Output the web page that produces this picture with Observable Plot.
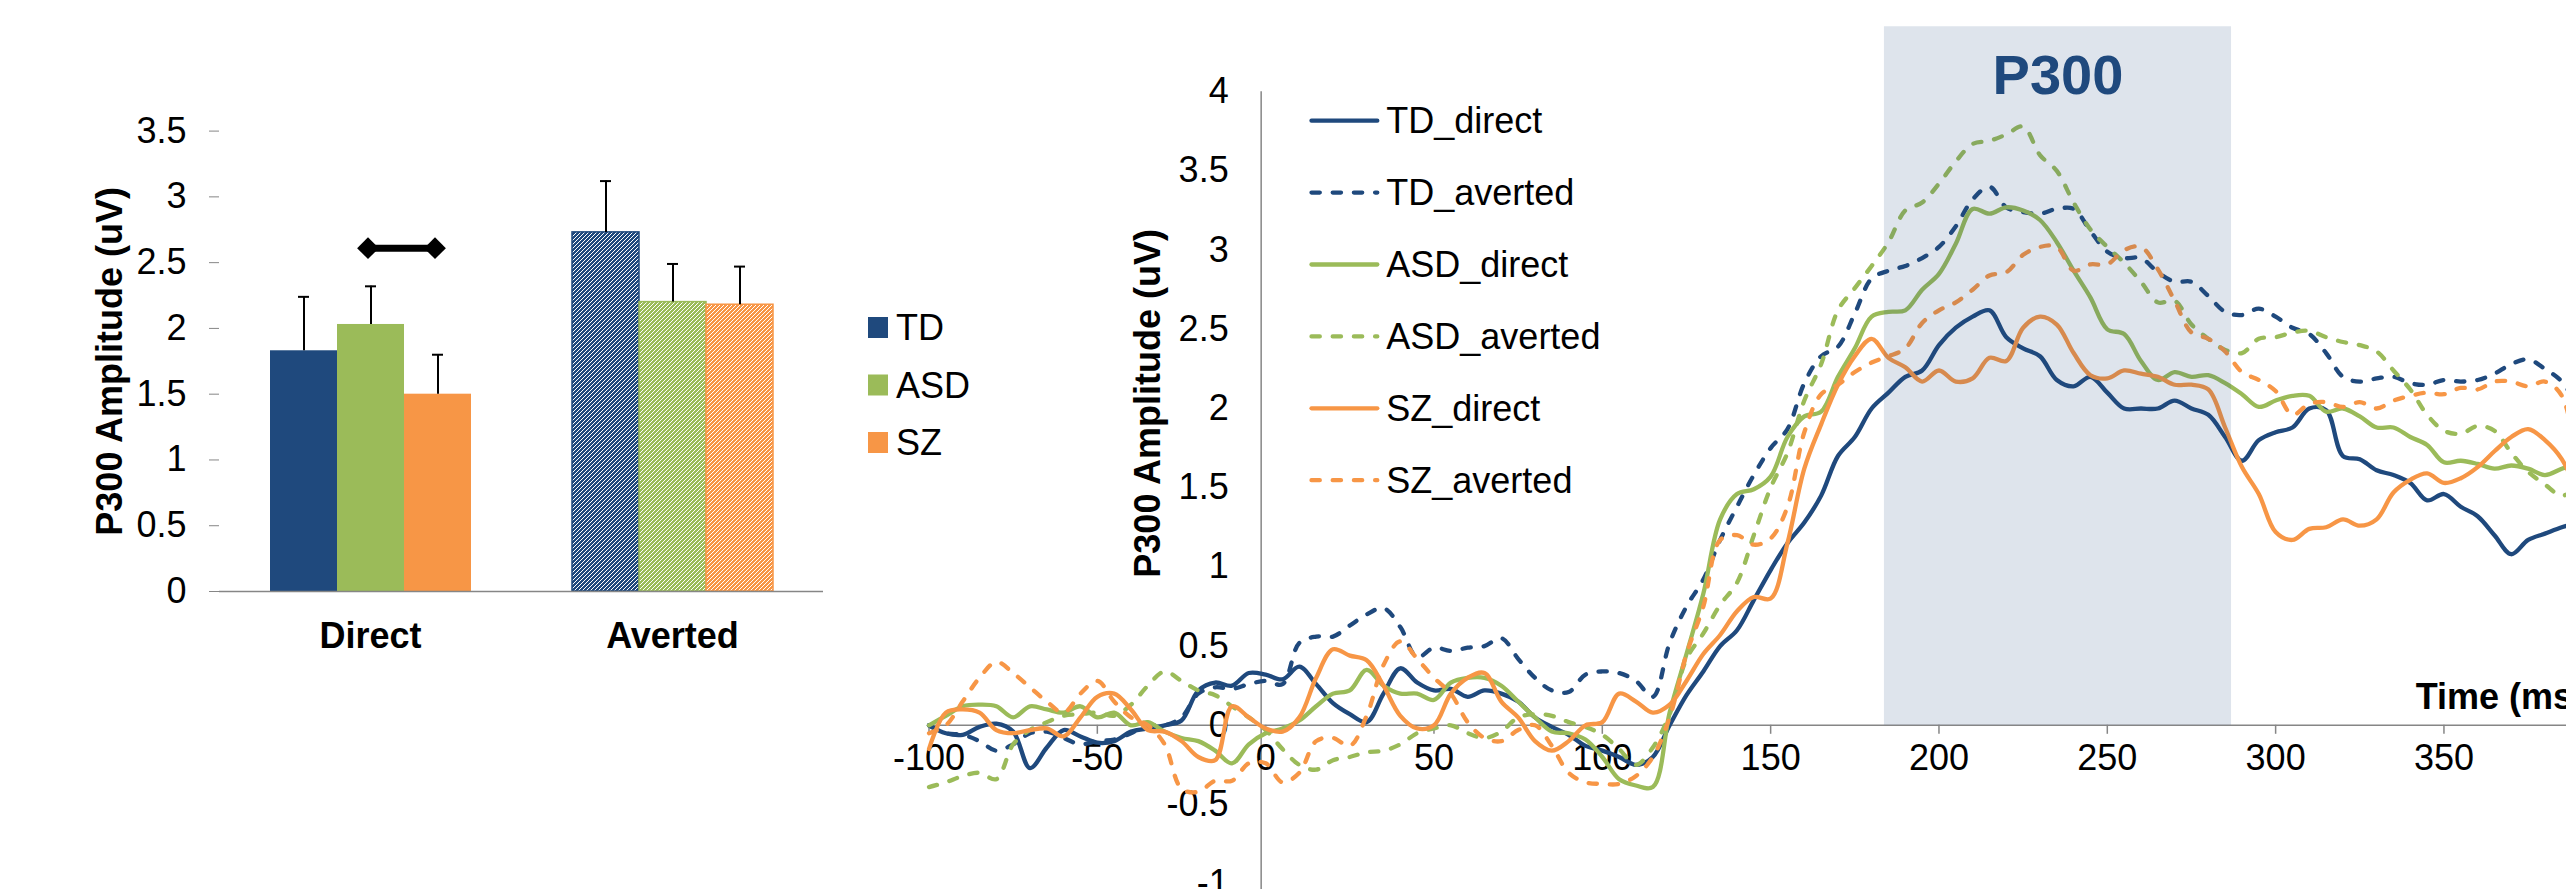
<!DOCTYPE html>
<html>
<head>
<meta charset="utf-8">
<script src="https://cdn.jsdelivr.net/npm/d3@7"></script>
<script src="https://cdn.jsdelivr.net/npm/@observablehq/plot@0.6"></script>
<style>
  html, body { margin: 0; padding: 0; background: #ffffff; }
  #root { position: relative; width: 2566px; height: 889px; overflow: hidden; background: #ffffff; }
  #root > svg { position: absolute; left: 0; top: 0; }
</style>
</head>
<body>
<div id="root"></div>
<script>
// ---------------- DATA ----------------
// Bar chart
const conditions = ["Direct", "Averted"];
const groups = ["TD", "ASD", "SZ"];
const groupColors = ["#1F497D", "#9BBB59", "#F79646"];
const meanDirect = [1.83, 2.03, 1.50];
const meanAverted = [2.73, 2.20, 2.18];
const errDirect = [0.41, 0.29, 0.30];
const errAverted = [0.39, 0.29, 0.29];
const barTicks = [0, 0.5, 1, 1.5, 2, 2.5, 3, 3.5];
const sigPairs = [{cond: "Direct", from: "ASD", to: "SZ", y: 2.61}];

// ERP waveforms
const seriesNames = ["TD_direct", "TD_averted", "ASD_direct", "ASD_averted", "SZ_direct", "SZ_averted"];
const seriesColors = ["#1F497D", "#1F497D", "#9BBB59", "#9BBB59", "#F79646", "#F79646"];
const seriesDashed = [false, true, false, true, false, true];
const timeMs = [-100,-95,-90,-85,-80,-75,-70,-65,-60,-55,-50,-45,-40,-35,-30,-25,-20,-15,-10,-5,
  0,5,10,15,20,25,30,35,40,45,50,55,60,65,70,75,80,85,90,95,100,105,110,115,120,125,130,135,140,145,
  150,155,160,165,170,175,180,185,190,195,200,205,210,215,220,225,230,235,240,245,250,255,260,265,270,275,280,285,290,295,
  300,305,310,315,320,325,330,335,340,345,350,355,360,365,370,375,380,385,390];
const tdDirect = [0.00,-0.05,-0.06,-0.01,0.01,-0.04,-0.27,-0.14,-0.03,-0.07,-0.11,-0.10,-0.04,-0.02,0.00,0.03,0.22,0.27,0.25,0.33,
  0.32,0.29,0.37,0.26,0.14,0.07,0.02,0.20,0.36,0.27,0.22,0.23,0.18,0.22,0.20,0.15,0.05,-0.01,-0.06,-0.13,-0.16,-0.20,-0.25,-0.20,0.00,0.19,0.34,0.50,0.60,0.79,
  0.98,1.15,1.28,1.45,1.70,1.82,2.00,2.10,2.20,2.24,2.40,2.51,2.58,2.62,2.45,2.38,2.33,2.18,2.14,2.20,2.10,2.00,2.00,2.00,2.05,2.00,1.96,1.82,1.67,1.80,
  1.85,1.88,2.00,1.99,1.70,1.68,1.61,1.58,1.53,1.42,1.46,1.38,1.32,1.20,1.08,1.17,1.21,1.25,1.28];
const tdAverted = [0.00,-0.05,-0.06,-0.10,-0.16,-0.12,-0.05,-0.04,-0.08,-0.12,-0.10,-0.09,-0.05,0.00,0.00,0.05,0.20,0.24,0.23,0.26,
  0.28,0.26,0.52,0.56,0.56,0.63,0.70,0.74,0.62,0.43,0.49,0.47,0.49,0.50,0.55,0.42,0.30,0.22,0.21,0.32,0.34,0.33,0.28,0.18,0.52,0.75,0.92,1.17,1.38,1.58,
  1.75,1.87,2.16,2.33,2.39,2.60,2.82,2.87,2.90,2.95,3.02,3.15,3.32,3.40,3.27,3.24,3.23,3.26,3.26,3.12,2.99,2.95,2.95,2.86,2.80,2.80,2.71,2.61,2.59,2.63,
  2.58,2.51,2.47,2.35,2.20,2.17,2.19,2.20,2.16,2.15,2.18,2.17,2.18,2.22,2.28,2.31,2.25,2.17,2.00];
const asdDirect = [0.00,0.06,0.12,0.13,0.12,0.05,0.12,0.10,0.08,0.12,0.05,0.08,0.00,0.02,-0.04,-0.08,-0.10,-0.16,-0.24,-0.12,
  -0.05,-0.02,0.03,0.12,0.20,0.22,0.35,0.25,0.20,0.20,0.16,0.27,0.30,0.30,0.25,0.15,0.05,-0.04,-0.05,-0.09,-0.20,-0.34,-0.38,-0.39,0.08,0.45,0.83,1.30,1.46,1.49,
  1.57,1.82,1.95,1.98,2.20,2.38,2.58,2.61,2.62,2.75,2.85,3.04,3.26,3.23,3.27,3.25,3.19,3.05,2.87,2.70,2.50,2.47,2.30,2.18,2.23,2.20,2.21,2.16,2.09,2.01,
  2.05,2.08,2.08,1.98,2.00,1.95,1.88,1.88,1.82,1.77,1.66,1.67,1.65,1.62,1.64,1.62,1.58,1.62,1.66];
const asdAverted = [-0.39,-0.36,-0.32,-0.30,-0.34,-0.12,-0.03,0.02,0.06,0.07,0.08,0.06,0.13,0.25,0.34,0.28,0.22,0.19,0.12,0.05,
  -0.03,-0.15,-0.25,-0.28,-0.22,-0.20,-0.17,-0.16,-0.12,-0.05,-0.02,0.00,-0.05,-0.08,-0.04,0.05,0.07,0.06,0.02,-0.01,-0.06,-0.15,-0.25,-0.14,0.07,0.42,0.58,0.76,0.90,1.20,
  1.50,1.72,2.05,2.28,2.62,2.76,2.90,3.05,3.25,3.30,3.42,3.56,3.67,3.69,3.73,3.78,3.60,3.50,3.30,3.13,3.02,2.92,2.80,2.67,2.68,2.53,2.44,2.37,2.35,2.44,
  2.45,2.48,2.49,2.45,2.42,2.40,2.36,2.24,2.12,1.96,1.86,1.84,1.89,1.86,1.72,1.60,1.52,1.45,1.50];
const szDirect = [-0.15,0.08,0.10,0.08,-0.03,-0.05,-0.03,-0.02,-0.07,0.05,0.18,0.20,0.10,-0.03,-0.04,-0.10,-0.20,-0.22,0.12,0.05,
  -0.02,-0.04,0.05,0.30,0.48,0.44,0.41,0.25,0.06,-0.02,0.00,0.20,0.30,0.33,0.15,0.05,-0.10,-0.16,-0.10,0.00,0.02,0.20,0.15,0.08,0.13,0.28,0.45,0.57,0.72,0.81,
  0.80,1.15,1.62,1.90,2.15,2.33,2.44,2.32,2.26,2.17,2.24,2.17,2.19,2.32,2.30,2.51,2.58,2.53,2.35,2.21,2.19,2.24,2.22,2.20,2.15,2.15,2.12,1.88,1.63,1.46,
  1.22,1.17,1.24,1.25,1.30,1.26,1.30,1.47,1.55,1.59,1.53,1.56,1.63,1.73,1.82,1.87,1.80,1.68,1.45];
const szAverted = [-0.05,0.00,0.15,0.30,0.40,0.33,0.24,0.15,0.08,0.20,0.28,0.15,0.05,0.00,-0.12,-0.40,-0.42,-0.35,-0.35,-0.24,
  -0.24,-0.36,-0.30,-0.10,-0.08,-0.13,0.06,0.38,0.53,0.42,0.30,0.20,0.02,-0.08,-0.10,-0.03,0.00,-0.13,-0.30,-0.36,-0.37,-0.37,-0.32,-0.20,0.05,0.45,0.75,1.17,1.20,1.14,
  1.18,1.38,1.85,2.09,2.15,2.23,2.29,2.33,2.38,2.54,2.62,2.67,2.75,2.84,2.86,2.97,3.02,3.02,2.87,2.91,2.91,3.00,3.02,2.88,2.68,2.48,2.44,2.36,2.23,2.18,
  2.11,1.96,2.03,2.04,2.01,2.04,2.00,2.05,2.08,2.10,2.09,2.13,2.12,2.17,2.17,2.14,2.17,2.08,1.60];
const seriesValues = [tdDirect, tdAverted, asdDirect, asdAverted, szDirect, szAverted];
const erpXTicks = [-100, -50, 0, 50, 100, 150, 200, 250, 300, 350];
const erpYTicks = [4, 3.5, 3, 2.5, 2, 1.5, 1, 0.5, 0, -0.5, -1];
const p300Window = [183.8, 286.9];
const p300Top = 4.41;

// ---------------- STYLE ----------------
const FONT = '"Liberation Sans", Arial, Helvetica, sans-serif';
const AXIS = "#868686";
const root = document.getElementById("root");

// hatch patterns for the averted bars
root.insertAdjacentHTML("beforeend",
  `<svg width="0" height="0" style="position:absolute"><defs>${groups.map((g, i) =>
    `<pattern id="hatch-${g}" patternUnits="userSpaceOnUse" width="4" height="4">
       <rect width="4" height="4" fill="white"/>
       <path d="M-1,1 l2,-2 M0,4 l4,-4 M3,5 l2,-2" stroke="${groupColors[i]}" stroke-width="1.6" shape-rendering="crispEdges"/>
     </pattern>`).join("")}</defs></svg>`);

// ---------------- ERP LINE CHART ----------------
const lineData = seriesNames.flatMap((name, s) => timeMs.map((t, i) => ({series: name, t, v: seriesValues[s][i]})));

const erp = Plot.plot({
  width: 2566, height: 889,
  marginLeft: 928.5, marginRight: 0, marginTop: 91.2, marginBottom: 5.8,
  x: {domain: [-100, 386.4], axis: null},
  y: {domain: [-1, 4], axis: null},
  style: {background: "transparent", overflow: "hidden", fontFamily: FONT, color: "black"},
  marks: [
    Plot.ruleY([0], {stroke: AXIS, strokeWidth: 1.5}),
    Plot.ruleX(erpXTicks, {x: d => d, y1: 0, y2: 0, insetBottom: -9, stroke: AXIS, strokeWidth: 1.5}),
    Plot.ruleX([0], {y1: -1.05, y2: 4, dx: -4.5, stroke: AXIS, strokeWidth: 1.5}),
    Plot.text(erpYTicks, {x: 0, y: d => d, text: d => String(d), textAnchor: "end", dx: -37, fontSize: 36, fill: "black"}),
    Plot.text(erpXTicks, {x: d => d, y: 0, text: d => String(d), dy: 32.7, fontSize: 36, fill: "black"}),
    ...seriesNames.map((name, s) => Plot.line(lineData.filter(d => d.series === name), {
      x: "t", y: "v", stroke: seriesColors[s], strokeWidth: 4.3,
      strokeDasharray: seriesDashed[s] ? "8.3,12.9" : undefined,
      strokeLinecap: "round", strokeLinejoin: "round", curve: "catmull-rom"
    })),
    Plot.rect([{x1: p300Window[0], x2: p300Window[1], y1: 0, y2: p300Top}], {x1: "x1", x2: "x2", y1: "y1", y2: "y2", fill: "#1F497D", fillOpacity: 0.15}),
    Plot.text(["P300"], {x: (p300Window[0] + p300Window[1]) / 2, y: 3.987, text: d => d, lineAnchor: "bottom", fontSize: 56, fontWeight: "bold", fill: "#1F497D"}),
    Plot.text(["Time (ms)"], {x: 341.6, y: 0, dy: -16, text: d => d, textAnchor: "start", lineAnchor: "bottom", fontSize: 36, fontWeight: "bold", fill: "black"}),
    Plot.text(["P300 Amplitude (uV)"], {frameAnchor: "top-left", textAnchor: "middle", lineAnchor: "middle", dx: 219.5, dy: 311.6, rotate: -90, text: d => d, fontSize: 36, fontWeight: "bold", fill: "black"})
  ]
});

// ---------------- BAR CHART ----------------
const barData = conditions.flatMap((c, ci) => groups.map((g, gi) => ({
  cond: c, group: g, color: groupColors[gi],
  mean: ci === 0 ? meanDirect[gi] : meanAverted[gi],
  err: ci === 0 ? errDirect[gi] : errAverted[gi]
})));
const barLeft = 218, barRight = 823.8, barSvgW = 1000;
const facetW = (barRight - barLeft) / conditions.length;

const bars = Plot.plot({
  width: barSvgW, height: 889,
  marginLeft: barLeft, marginRight: barSvgW - barRight, marginTop: 130.6, marginBottom: 298,
  fx: {domain: conditions, paddingInner: 0, paddingOuter: 0, axis: null},
  x: {domain: groups, paddingInner: 0, paddingOuter: 0.737, axis: null},
  y: {domain: [0, 3.5], axis: null},
  color: {type: "identity"},
  style: {background: "transparent", overflow: "visible", fontFamily: FONT, color: "black"},
  marks: [
    Plot.barY(barData, {fx: "cond", x: "group", y: "mean",
      fill: d => d.cond === "Direct" ? d.color : `url(#hatch-${d.group})`,
      stroke: d => d.cond === "Direct" ? "none" : d.color, strokeWidth: 1.5}),
    Plot.ruleY([0], {stroke: AXIS, strokeWidth: 1.5}),
    Plot.ruleX(conditions.slice(0, 1), {fx: d => d, y1: 0, y2: 3.5, insetBottom: -11, dx: -facetW / 2, stroke: AXIS, strokeWidth: 1.5}),
    Plot.ruleX(conditions.slice(1), {fx: d => d, y1: 0, y2: 0, insetBottom: -11, dx: -facetW / 2, stroke: AXIS, strokeWidth: 1.5}),
    Plot.ruleX(conditions.slice(-1), {fx: d => d, y1: 0, y2: 0, insetBottom: -11, dx: facetW / 2, stroke: AXIS, strokeWidth: 1.5}),
    Plot.axisY({ticks: barTicks, tickSize: 10, tickPadding: 23, fontSize: 36, stroke: AXIS, fill: "black", tickFormat: d => String(d), label: null}),
    Plot.ruleX(barData, {fx: "cond", x: "group", y1: "mean", y2: d => d.mean + d.err, stroke: "black", strokeWidth: 2}),
    Plot.tickY(barData, {fx: "cond", x: "group", y: d => d.mean + d.err, stroke: "black", strokeWidth: 2, insetLeft: 28, insetRight: 28}),
    Plot.link(sigPairs, {fx: "cond", x1: "from", x2: "to", y1: "y", y2: "y", stroke: "black", strokeWidth: 7, dx: -3}),
    Plot.dot(sigPairs.flatMap(d => [{cond: d.cond, g: d.from, y: d.y}, {cond: d.cond, g: d.to, y: d.y}]),
      {fx: "cond", x: "g", y: "y", symbol: "diamond2", r: 9.8, fill: "black", stroke: "none", dx: -3}),
    Plot.text(conditions, {fx: d => d, y: 0, text: d => d, textAnchor: "middle", lineAnchor: "top", dy: 30.7, fontSize: 36, fontWeight: "bold", fill: "black"}),
    Plot.text([{cond: conditions[0], label: "P300 Amplitude (uV)"}], {fx: "cond", y: 1.75, text: "label", frameAnchor: "left", textAnchor: "middle", lineAnchor: "middle", dx: -109, rotate: -90, fontSize: 36, fontWeight: "bold", fill: "black"})
  ]
});

// ---------------- LEGENDS ----------------
const leg = d3.create("svg").attr("width", 2566).attr("height", 889)
  .style("font-family", FONT).style("font-size", "36px");
// bar legend
groups.forEach((g, i) => {
  const cy = 327.5 + 57.5 * i;
  leg.append("rect").attr("x", 868).attr("y", cy - 10.5).attr("width", 20).attr("height", 21).attr("fill", groupColors[i]);
  leg.append("text").attr("x", 896).attr("y", cy + 12.9).attr("fill", "black").text(g);
});
// line legend
seriesNames.forEach((name, s) => {
  const cy = 120.7 + 71.9 * s;
  leg.append("line").attr("x1", 1311.5).attr("x2", 1377.3).attr("y1", cy).attr("y2", cy)
    .attr("stroke", seriesColors[s]).attr("stroke-width", 4.3).attr("stroke-linecap", "round")
    .attr("stroke-dasharray", seriesDashed[s] ? "8.3,12.9" : null);
  leg.append("text").attr("x", 1386.3).attr("y", cy + 12.7).attr("fill", "black").text(name);
});

root.append(erp, bars, leg.node());
</script>
</body>
</html>
